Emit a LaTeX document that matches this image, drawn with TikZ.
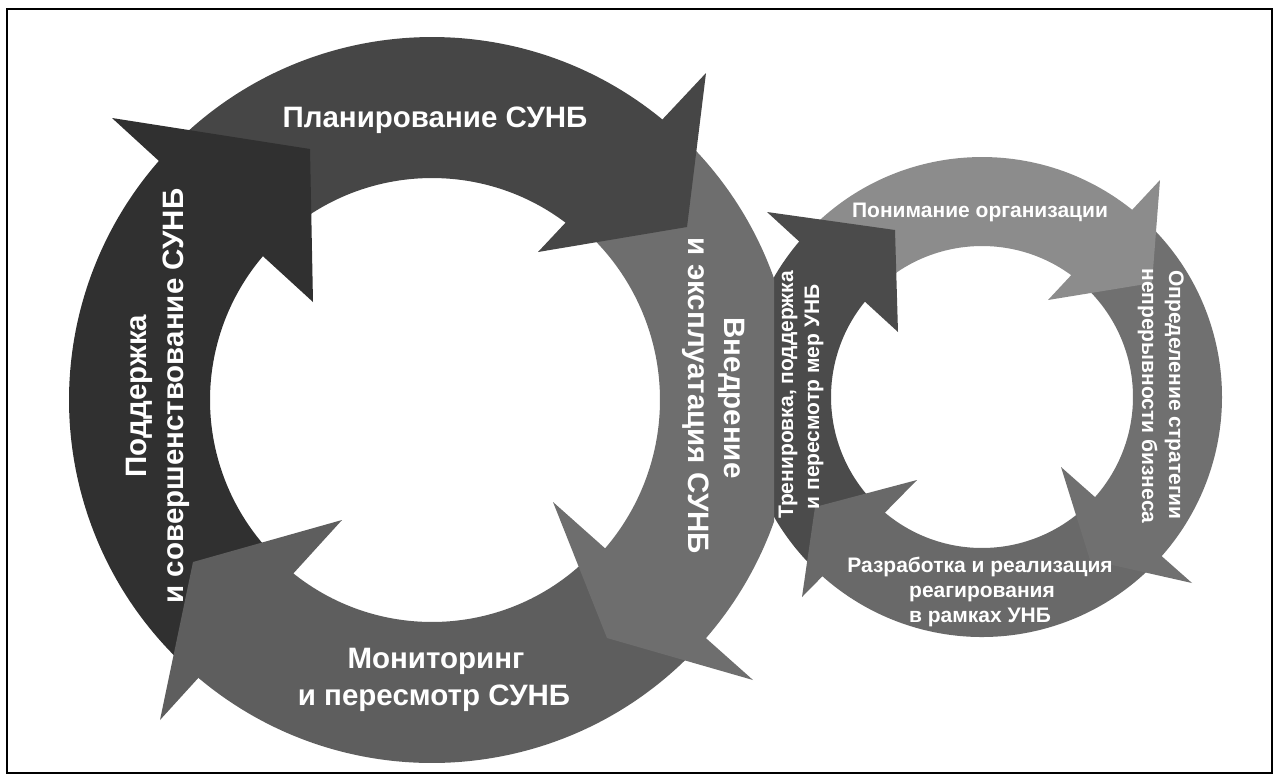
\documentclass[tikz,border=0pt]{standalone}
\usepackage{fontspec}
\setmainfont{Liberation Sans}
\definecolor{cPodd}{gray}{0.19}
\definecolor{cPlan}{gray}{0.275}
\definecolor{cVned}{gray}{0.43}
\definecolor{cMon}{gray}{0.37}
\definecolor{cPon}{gray}{0.55}
\definecolor{cOpr}{gray}{0.44}
\definecolor{cRaz}{gray}{0.41}
\definecolor{cTren}{gray}{0.295}
\begin{document}
\begin{tikzpicture}[x=1pt,y=-1pt,
  lbl/.style={text=white,font=\bfseries\fontsize{29.5}{29.5}\selectfont,inner sep=0pt,anchor=base},
  slbl/.style={text=white,font=\bfseries\fontsize{21}{21}\selectfont,inner sep=0pt,anchor=base}]
\useasboundingbox (0,0) rectangle (1279,780);
\fill[white] (0,0) rectangle (1279,780);
\draw[line width=2pt] (7,9) rectangle (1272,773);

% ---------- small ring (lies under the big ring): bodies
\begin{scope}[shift={(982,397)}]
 \fill[cPon] (223.5:240) arc[start angle=223.5,end angle=312.5,radius=240] -- (312.5:151) arc[start angle=312.5,end angle=223.5,radius=151] -- cycle;
 \fill[cOpr] (312.5:240) arc[start angle=312.5,end angle=404,radius=240] -- (404:151) arc[start angle=404,end angle=312.5,radius=151] -- cycle;
 \fill[cRaz] (44:240) arc[start angle=44,end angle=134.5,radius=240] -- (134.5:151) arc[start angle=134.5,end angle=44,radius=151] -- cycle;
 \fill[cTren] (134.5:240) arc[start angle=134.5,end angle=223.5,radius=240] -- (223.5:151) arc[start angle=223.5,end angle=134.5,radius=151] -- cycle;
\end{scope}
% ---------- small ring: heads
\fill[cTren] (767,212) -- (895,230) -- (898,332) -- cycle;
\fill[cPon] (1160,180) -- (1152,283) -- (1048,300) -- cycle;
\fill[cOpr] (1192,583) -- (1090,560) -- (1061,467) -- cycle;
\fill[cRaz] (802,597) -- (815,507) -- (917,480) -- cycle;

% ---------- big ring (on top, its right side flattened at x = 774)
\begin{scope}
\clip (0,0) rectangle (774,780);
\begin{scope}[shift={(432,400)}]
 \fill[cPlan] (223.5:363) arc[start angle=223.5,end angle=312.5,radius=363] -- (312.5:222) arc[start angle=312.5,end angle=223.5,radius=222] -- cycle;
 \fill[cVned] (312.5:363) arc[start angle=312.5,end angle=403.5,radius=363] -- (403.5:228) arc[start angle=403.5,end angle=312.5,radius=228] -- cycle;
 \fill[cMon] (43.5:363) arc[start angle=43.5,end angle=132.5,radius=363] -- (132.5:222) arc[start angle=132.5,end angle=43.5,radius=222] -- cycle;
 \fill[cPodd] (132.5:363) arc[start angle=132.5,end angle=223.5,radius=363] -- (223.5:222) arc[start angle=223.5,end angle=132.5,radius=222] -- cycle;
\end{scope}
% ---------- big ring: heads
\fill[cPodd] (112,118) -- (310,149) -- (313,302) -- cycle;
\fill[cPlan] (706,73) -- (687,227) -- (538,252) -- cycle;
\fill[cVned] (753,680) -- (607,638) -- (553,502) -- cycle;
\fill[cMon] (160,720) -- (193,562) -- (342,520) -- cycle;
\end{scope}

% ---------- big ring labels
\node[lbl] (tplan) at (435,127) {Планирование СУНБ};
\node[lbl] (tmon1) at (436,668) {Мониторинг};
\node[lbl] (tmon2) at (434,705) {и пересмотр СУНБ};
\node[lbl,rotate=-90] (tvn1) at (724,398) {Внедрение};
\node[lbl,rotate=-90] (tvn2) at (688,396) {и эксплуатация СУНБ};
\node[lbl,rotate=90] (tpod1) at (146,396) {Поддержка};
\node[lbl,rotate=90] (tpod2) at (183,396) {и совершенствование СУНБ};

% ---------- small ring labels
\node[slbl] (tpon) at (980,217) {Понимание организации};
\node[slbl] (traz1) at (980,572) {Разработка и реализация};
\node[slbl] (traz2) at (982,597) {реагирования};
\node[slbl] (traz3) at (980,622) {в рамках УНБ};
\node[slbl,rotate=-90] (topr1) at (1169,395) {Определение стратегии};
\node[slbl,rotate=-90] (topr2) at (1142,396) {непрерывности бизнеса};
\node[slbl,rotate=90] (ttren1) at (793,395) {Тренировка, поддержка};
\node[slbl,rotate=90] (ttren2) at (819,397) {и пересмотр мер УНБ};
\end{tikzpicture}
\end{document}
